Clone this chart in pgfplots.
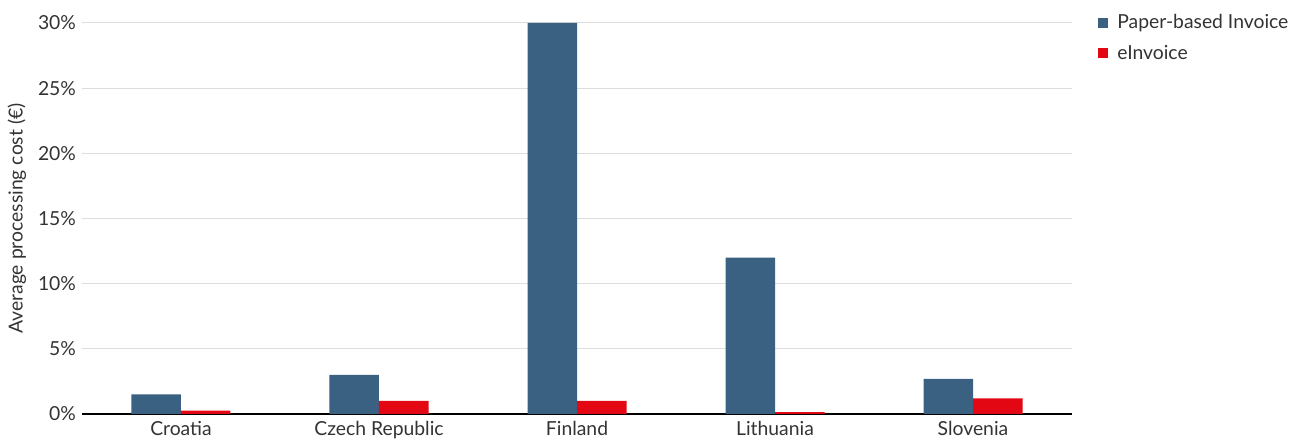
\documentclass[border=0pt]{standalone}
\usepackage{pgfplots}
\pgfplotsset{compat=1.18}
\usepackage{fontspec}
\setmainfont{Lato}
\definecolor{paperblue}{HTML}{3A6182}
\definecolor{einvred}{HTML}{E30613}
\definecolor{gridgray}{HTML}{DDDDDD}
\definecolor{textgray}{HTML}{333333}

\begin{document}
\begin{tikzpicture}
\begin{axis}[
    scale only axis,
    width=742.5pt, height=293.25pt,
    ybar, bar width=0.25,
    xmin=-0.5, xmax=4.5,
    ymin=0, ymax=30,
    xtick={0,1,2,3,4},
    xticklabels={Croatia, Czech Republic, Finland, Lithuania, Slovenia},
    ytick={0,5,10,15,20,25,30},
    yticklabel={\pgfmathprintnumber{\tick}\%},
    /pgf/number format/assume math mode=true,
    tick style={draw=none},
    axis line style={draw=none},
    ymajorgrids, grid style={gridgray, line width=0.75pt},
    font=\fontsize{14.5pt}{17pt}\selectfont,
    tick label style={textgray},
    yticklabel style={xshift=-1pt},
    xticklabel style={yshift=2pt},
    ylabel={Average processing cost (€)},
    ylabel style={textgray, yshift=2pt},
    legend style={draw=none, at={(1.022,1.036)}, anchor=north west,
        font=\fontsize{14.5pt}{17pt}\selectfont, text=textgray,
        row sep=7pt, column sep=5pt, cells={anchor=west}},
    legend image code/.code={\fill[#1] (0pt,-3.75pt) rectangle (7.5pt,3.75pt);},
    extra y ticks={0}, extra y tick labels={},
    extra y tick style={grid style={black, line width=1pt}},
]
\addplot[fill=paperblue, draw=none, bar shift=-0.125] coordinates {
    (0,1.5) (1,3.0) (2,30.0) (3,12.0) (4,2.7)
};
\addlegendentry{Paper-based Invoice}
\addplot[fill=einvred, draw=none, bar shift=0.125] coordinates {
    (0,0.25) (1,1.0) (2,1.0) (3,0.15) (4,1.2)
};
\addlegendentry{eInvoice}
\end{axis}
\pgfresetboundingbox
\path (-61.5pt,-20.25pt) rectangle (915pt,310.5pt);
\end{tikzpicture}
\end{document}
